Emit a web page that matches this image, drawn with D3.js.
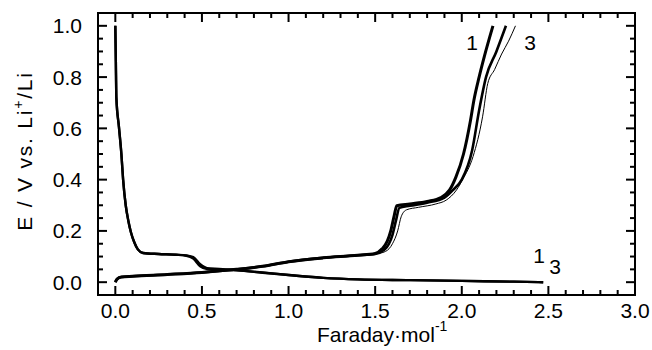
<!DOCTYPE html>
<html>
<head>
<meta charset="utf-8">
<script src="https://cdn.jsdelivr.net/npm/d3@7"></script>
<style>
    body { margin: 0; background: #fff; }
    svg { display: block; font-family: Arial, "Liberation Sans", sans-serif; }
</style>
</head>
<body>
<svg id="chart" width="652" height="350"></svg>
<script>
// tick labels
const xTicks = [0.0, 0.5, 1.0, 1.5, 2.0, 2.5, 3.0];
const yTicks = [0.0, 0.2, 0.4, 0.6, 0.8, 1.0];

// discharge (lithiation), cycles 1 and 3 share the capacity grid
const dischargeX  = [0, 0.003, 0.006, 0.021, 0.035, 0.045, 0.06, 0.075, 0.09, 0.11, 0.13, 0.16, 0.25, 0.35, 0.41, 0.45, 0.49, 0.53, 0.6, 0.7, 0.85, 1.0, 1.2, 1.4, 1.7, 2.0, 2.3, 2.47];
const discharge1Y = [1.0, 0.86, 0.72, 0.605, 0.5, 0.4, 0.3, 0.24, 0.195, 0.155, 0.128, 0.114, 0.11, 0.107, 0.104, 0.098, 0.07, 0.055, 0.052, 0.047, 0.038, 0.028, 0.017, 0.011, 0.008, 0.005, 0.002, 0.0];
const discharge3Y = [1.0, 0.86, 0.72, 0.605, 0.5, 0.4, 0.3, 0.24, 0.195, 0.155, 0.128, 0.114, 0.11, 0.107, 0.103, 0.092, 0.062, 0.051, 0.05, 0.046, 0.037, 0.028, 0.017, 0.011, 0.008, 0.005, 0.002, 0.0];

// charge (delithiation), cycles 1, 2, 3
const charge1X = [0, 0.01, 0.035, 0.1, 0.3, 0.5, 0.7, 0.85, 1.0, 1.2, 1.4, 1.5, 1.54, 1.57, 1.59, 1.61, 1.625, 1.7, 1.8, 1.88, 1.93, 1.966, 2.01, 2.05, 2.07, 2.1, 2.13, 2.18];
const charge1Y = [0, 0.012, 0.02, 0.023, 0.03, 0.038, 0.05, 0.062, 0.08, 0.095, 0.105, 0.112, 0.13, 0.16, 0.2, 0.26, 0.298, 0.305, 0.315, 0.33, 0.36, 0.41, 0.5, 0.63, 0.71, 0.8, 0.88, 1.0];
const charge2X = [0, 0.01, 0.035, 0.1, 0.3, 0.5, 0.7, 0.85, 1.0, 1.2, 1.4, 1.5, 1.55, 1.58, 1.6, 1.62, 1.64, 1.7, 1.8, 1.9, 1.95, 2.0, 2.06, 2.1, 2.14, 2.2, 2.255];
const charge2Y = [0, 0.012, 0.02, 0.023, 0.03, 0.038, 0.05, 0.062, 0.08, 0.095, 0.105, 0.11, 0.125, 0.15, 0.185, 0.24, 0.29, 0.298, 0.31, 0.33, 0.36, 0.4, 0.515, 0.67, 0.8, 0.9, 1.0];
const charge3X = [0, 0.01, 0.035, 0.1, 0.3, 0.5, 0.7, 0.85, 1.0, 1.2, 1.4, 1.5, 1.56, 1.6, 1.63, 1.65, 1.68, 1.75, 1.85, 1.91, 1.97, 2.005, 2.065, 2.12, 2.15, 2.19, 2.23, 2.27, 2.31];
const charge3Y = [0, 0.012, 0.02, 0.023, 0.03, 0.038, 0.05, 0.062, 0.08, 0.094, 0.104, 0.11, 0.12, 0.15, 0.2, 0.255, 0.282, 0.292, 0.305, 0.32, 0.36, 0.4, 0.49, 0.645, 0.775, 0.83, 0.89, 0.94, 1.0];

const svg = d3.select("#chart");
const plot = { left: 98, right: 635, top: 13, bottom: 295 };

const x = d3.scaleLinear().domain([-0.1, 3.0]).range([plot.left, plot.right]);
const y = d3.scaleLinear().domain([-0.05, 1.05]).range([plot.bottom, plot.top]);

const line = d3.line()
    .x(d => x(d[0]))
    .y(d => y(d[1]))
    .curve(d3.curveMonotoneX);

function drawCurve(xs, ys, width) {
    svg.append("path")
        .datum(xs.map((v, i) => [v, ys[i]]))
        .attr("d", line)
        .attr("fill", "none")
        .attr("stroke", "#000")
        .attr("stroke-width", width)
        .attr("stroke-linejoin", "round")
        .attr("stroke-linecap", "butt");
}

drawCurve(dischargeX, discharge3Y, 2.4);
drawCurve(dischargeX, discharge1Y, 2.4);
drawCurve(charge3X, charge3Y, 1);
drawCurve(charge2X, charge2Y, 2.6);
drawCurve(charge1X, charge1Y, 3);

// frame
svg.append("rect")
    .attr("x", plot.left).attr("y", plot.top)
    .attr("width", plot.right - plot.left).attr("height", plot.bottom - plot.top)
    .attr("fill", "none").attr("stroke", "#000").attr("stroke-width", 2);

// inward ticks on all four sides
const ticks = svg.append("g").attr("stroke", "#000").attr("stroke-width", 2);
d3.range(0, 31).map(i => i / 10).forEach(v => {
    const len = (Math.round(v * 10) % 5 === 0) ? 9 : 5;
    ticks.append("line").attr("x1", x(v)).attr("x2", x(v)).attr("y1", plot.bottom).attr("y2", plot.bottom - len);
    ticks.append("line").attr("x1", x(v)).attr("x2", x(v)).attr("y1", plot.top).attr("y2", plot.top + len);
});
d3.range(0, 21).map(i => i / 20).forEach(v => {
    const len = (Math.round(v * 20) % 4 === 0) ? 9 : 5;
    ticks.append("line").attr("y1", y(v)).attr("y2", y(v)).attr("x1", plot.left).attr("x2", plot.left + len);
    ticks.append("line").attr("y1", y(v)).attr("y2", y(v)).attr("x1", plot.right).attr("x2", plot.right - len);
});

// tick labels
svg.selectAll(".xlab").data(xTicks).enter().append("text")
    .attr("x", d => x(d))
    .attr("y", 318)
    .attr("text-anchor", "middle")
    .style("font-size", "21px")
    .text(d => d.toFixed(1));

svg.selectAll(".ylab").data(yTicks).enter().append("text")
    .attr("x", 82)
    .attr("y", d => y(d) + 7.5)
    .attr("text-anchor", "end")
    .style("font-size", "21px")
    .text(d => d.toFixed(1));

// axis titles
const xt = svg.append("text")
    .attr("x", 317)
    .attr("y", 342)
    .style("font-size", "21px");
xt.append("tspan").text("Faraday\u00B7mol");
xt.append("tspan").attr("dy", -11).style("font-size", "14px").text("-1");

const yt = svg.append("text")
    .attr("transform", "translate(32,151) rotate(-90)")
    .attr("text-anchor", "middle")
    .style("font-size", "21px")
    .style("letter-spacing", "1.8px");
yt.append("tspan").text("E / V vs. Li");
yt.append("tspan").attr("dy", -9).style("font-size", "14px").text("+");
yt.append("tspan").attr("dy", 9).text("/Li");

// cycle labels
const cycleLabels = [
    { t: "1", x: 472, y: 50 },
    { t: "3", x: 530, y: 50 },
    { t: "1", x: 539, y: 263 },
    { t: "3", x: 555, y: 274 }
];
svg.selectAll(".clab").data(cycleLabels).enter().append("text")
    .attr("x", d => d.x)
    .attr("y", d => d.y)
    .attr("text-anchor", "middle")
    .style("font-size", "21px")
    .text(d => d.t);
</script>
</body>
</html>
